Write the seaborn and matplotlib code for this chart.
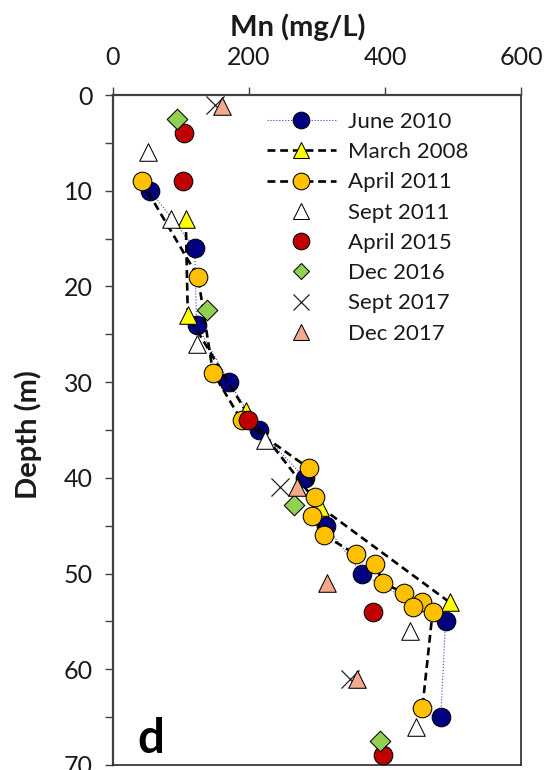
import numpy as np
import pandas as pd
import seaborn as sns
import matplotlib
matplotlib.use("Agg")
import matplotlib.pyplot as plt
from matplotlib.lines import Line2D

# ---------------- data (Mn in mg/L, depth in m) ----------------
june2010_mn = [55, 120, 123, 171, 215, 282, 313, 366, 489, 482]
june2010_depth = [10, 16, 24, 30, 35, 40, 45, 50, 55, 65]

march2008_mn = [107, 110, 195, 304, 495]
march2008_depth = [13, 23, 33, 43, 53]

april2011_mn = [42, 125, 147, 189, 288, 297, 292, 311, 357, 386, 397, 428, 455, 441, 470, 455]
april2011_depth = [9, 19, 29, 34, 39, 42, 44, 46, 48, 49, 51, 52, 53, 53.5, 54, 64]

sept2011_mn = [52, 85, 124, 223, 437, 445]
sept2011_depth = [6, 13, 26, 36, 56, 66]

april2015_mn = [105, 103, 199, 383, 397]
april2015_depth = [4, 9, 34, 54, 69]

dec2016_mn = [94, 138, 266, 392]
dec2016_depth = [2.5, 22.5, 42.8, 67.5]

sept2017_mn = [150, 246, 349]
sept2017_depth = [1, 41, 61]

dec2017_mn = [160, 270, 315, 359]
dec2017_depth = [1.1, 41, 51, 61]

series_labels = ["June 2010", "March 2008", "April 2011", "Sept 2011",
                 "April 2015", "Dec 2016", "Sept 2017", "Dec 2017"]
x_ticks = [0, 200, 400, 600]
y_major = [0, 10, 20, 30, 40, 50, 60, 70]
y_minor = [5, 15, 25, 35, 45, 55, 65]

# ---------------- style ----------------
sns.set_theme(style="white")
plt.rcParams["font.family"] = ["Lato", "DejaVu Sans"]

NAVY = "#000080"
YEL = "#FFFF00"
GOLD = "#FFC000"
RED = "#C00000"
GREEN = "#92D050"
PINK = "#F2A98C"
BLUELINE = "#3344c4"
SPINE = "#404040"

fig = plt.figure(figsize=(5.47, 7.70), dpi=100)
ax = fig.add_axes([113 / 547, 1 - 765 / 770, (521 - 113) / 547, (765 - 95) / 770])

def line(mn, depth, z, **kw):
    sns.lineplot(x=mn, y=depth, sort=False, estimator=None, ax=ax,
                 legend=False, zorder=z, **kw)

def pts(mn, depth, z, marker, s, face, edge="black", lw=0.75):
    if marker == "x":
        sns.scatterplot(x=mn, y=depth, marker="x", s=s, color=edge,
                        linewidth=lw, ax=ax, legend=False, zorder=z)
    else:
        sns.scatterplot(x=mn, y=depth, marker=marker, s=s, color=face,
                        edgecolor=edge, linewidth=lw, ax=ax, legend=False,
                        zorder=z)

S_CIRC = 180
S_TRI = 160
S_DIA = 110
S_X = 170
DASH = (0, (3, 1.8))

# June 2010
line(june2010_mn, june2010_depth, 2, color=BLUELINE, linewidth=0.8, linestyle=":")
pts(june2010_mn, june2010_depth, 3, "o", S_CIRC, NAVY)
# March 2008
line(march2008_mn, march2008_depth, 4, color="black", linewidth=1.9, linestyle=DASH)
pts(march2008_mn, march2008_depth, 5, "^", S_TRI, YEL)
# April 2011
line(april2011_mn, april2011_depth, 6, color="black", linewidth=1.9, linestyle=DASH)
pts(april2011_mn, april2011_depth, 7, "o", S_CIRC, GOLD)
# Sept 2011
pts(sept2011_mn, sept2011_depth, 9, "^", S_TRI, "white")
# April 2015
pts(april2015_mn, april2015_depth, 11, "o", S_CIRC, RED)
# Dec 2016
pts(dec2016_mn, dec2016_depth, 13, "D", S_DIA, GREEN)
# Sept 2017
pts(sept2017_mn, sept2017_depth, 15, "x", S_X, None, edge="#222222", lw=0.9)
# Dec 2017
pts(dec2017_mn, dec2017_depth, 17, "^", S_TRI, PINK)

# ---------------- axes ----------------
ax.set_xlim(0, 600)
ax.set_ylim(70, 0)
ax.xaxis.tick_top()
ax.set_xticks(x_ticks)
ax.set_xticklabels([str(v) for v in x_ticks])
ax.set_yticks(y_major)
ax.set_yticklabels([str(v) for v in y_major])
ax.set_yticks(y_minor, minor=True)
ax.set_xlabel("")
ax.set_ylabel("")
ax.tick_params(axis="both", which="both", direction="out", length=5.5,
               width=1.0, color=SPINE, labelsize=18, labelcolor="#1a1a1a")
ax.tick_params(axis="x", which="both", top=True, bottom=False, pad=13)
ax.tick_params(axis="y", which="both", left=True, right=False, pad=9)
for side, sp in ax.spines.items():
    sp.set_visible(True)
    sp.set_color(SPINE if side in ("left", "top") else "#2a2a2a")
    sp.set_linewidth(1.6 if side in ("left", "top") else 1.2)
ax.grid(False)
ax.set_facecolor("white")

fig.text(298 / 547, 1 - 36 / 770, "Mn (mg/L)", fontsize=21, fontweight="bold",
         ha="center", va="baseline", color="#1a1a1a")
fig.text(28 / 547, 1 - 435 / 770, "Depth (m)", fontsize=21, fontweight="bold",
         rotation=90, ha="center", va="center", color="#1a1a1a")
fig.text(137 / 547, 1 - 753 / 770, "d", fontsize=34, fontweight="bold",
         ha="left", va="baseline", color="black")

# ---------------- legend ----------------
handles = [
    Line2D([], [], color=BLUELINE, ls=":", lw=0.8, marker="o", mfc=NAVY, mec="black", ms=12, mew=0.75),
    Line2D([], [], color="black", ls=DASH, lw=1.9, marker="^", mfc=YEL, mec="black", ms=11.5, mew=0.75),
    Line2D([], [], color="black", ls=DASH, lw=1.9, marker="o", mfc=GOLD, mec="black", ms=12, mew=0.75),
    Line2D([], [], ls="none", marker="^", mfc="white", mec="black", ms=11.5, mew=0.75),
    Line2D([], [], ls="none", marker="o", mfc=RED, mec="black", ms=12, mew=0.75),
    Line2D([], [], ls="none", marker="D", mfc=GREEN, mec="black", ms=8, mew=0.75),
    Line2D([], [], ls="none", marker="x", color="#222222", ms=11.5, mew=0.9),
    Line2D([], [], ls="none", marker="^", mfc=PINK, mec="black", ms=11.5, mew=0.75),
]
leg = ax.legend(handles, series_labels, loc="upper left",
                bbox_to_anchor=(266.7 / 547, 1 - 112 / 770),
                bbox_transform=fig.transFigure, frameon=False, fontsize=16,
                handlelength=3.1, handletextpad=0.55, labelspacing=0.46,
                borderpad=0, borderaxespad=0)
for t in leg.get_texts():
    t.set_color("#1a1a1a")

fig.savefig("out.png", dpi=100, facecolor="white")
